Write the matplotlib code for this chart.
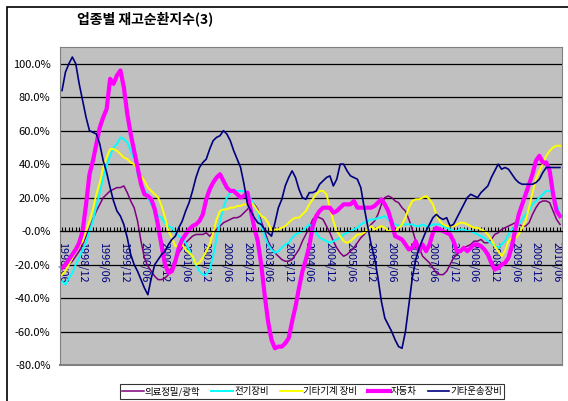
import numpy as np
import pandas as pd
import matplotlib
matplotlib.use('Agg')
from matplotlib import pyplot as plt
from matplotlib.ticker import FuncFormatter, MultipleLocator

plt.rcParams['font.family'] = ['Noto Sans CJK KR', 'DejaVu Sans']

# monthly categories 1998/06 .. 2010/07
months = [p.strftime('%Y/%m') for p in pd.period_range('1998-06', '2010-07', freq='M')]

# values in %
medical = [-22, -21, -20, -18, -15, -12, -8, -3, 2, 7, 12, 16, 20, 22, 24, 25, 26, 26, 27, 23,
           18, 14, 6, -6, -16, -21, -24, -27, -29, -29, -28, -26, -21, -17, -13, -10, -7, -5, -3, -2,
           -2, -2, -1, -3, -1, 1, 3, 5, 6, 7, 8, 8, 9, 11, 13, 16, 16, 13, 6, 0,
           -6, -10, -13, -15, -17, -18, -18, -17, -14, -11, -6, -2, 2, 7, 9, 8, 7, 3, -1, -6,
           -10, -13, -15, -14, -12, -10, -7, -4, -2, 1, 4, 6, 10, 16, 20, 21, 20, 18, 17, 14,
           12, 7, 1, -6, -10, -15, -17, -19, -22, -25, -26, -26, -24, -20, -16, -14, -12, -10, -9, -8,
           -6, -6, -5, -7, -7, -5, -2, -1, 1, 2, 3, 4, 5, 4, 3, 3, 5, 10, 14, 17,
           18, 18, 17, 12, 7, 4]
electric = [-30, -32, -28, -25, -20, -16, -11, -7, 0, 6, 15, 23, 32, 39, 45, 50, 52, 56, 55, 53,
            48, 43, 34, 29, 25, 20, 16, 12, 9, 8, 5, 3, 2, -1, -3, -5, -7, -11, -16, -20,
            -24, -26, -26, -23, -15, -4, 6, 14, 20, 23, 24, 24, 24, 24, 22, 19, 15, 11, 3, -3,
            -8, -11, -13, -12, -10, -8, -7, -4, -2, -1, 0, 2, 4, 2, -1, -4, -5, -6, -7, -6,
            -5, -4, -2, -1, 0, 1, 2, 4, 5, 6, 7, 7, 8, 8, 9, 7, 5, 4, 3, 4,
            4, 4, 4, 3, 3, 4, 3, 3, 4, 4, 4, 3, 2, 1, 0, 0, 1, 1, 0, 0,
            -1, -2, -3, -4, -6, -7, -9, -10, -8, -6, -2, 1, 3, 4, 7, 10, 12, 16, 18, 20,
            22, 24, 24, 23, 16, 10]
machinery = [-26, -24, -20, -16, -12, -9, -6, 0, 6, 13, 22, 29, 38, 44, 49, 49, 48, 46, 44, 43,
             41, 40, 36, 33, 30, 26, 24, 22, 20, 15, 8, 0, -4, -9, -9, -8, -11, -13, -15, -20,
             -19, -16, -12, -8, -1, 7, 12, 13, 13, 14, 14, 15, 15, 16, 16, 17, 15, 12, 9, 8,
             5, 0, 1, 1, 2, 3, 5, 7, 8, 8, 10, 12, 16, 19, 22, 24, 24, 22, 14, 6,
             0, -3, -6, -7, -6, -4, -2, -2, -1, 1, 3, 1, 2, 3, 2, 0, 0, 0, 2, 4,
             8, 14, 18, 19, 19, 20, 21, 19, 16, 10, 6, 4, 3, 3, 3, 4, 5, 5, 4, 3,
             2, 2, 1, 0, -2, -5, -9, -12, -15, -12, -6, -4, -4, -2, 2, 6, 14, 23, 31, 36,
             40, 45, 48, 50, 51, 51]
auto = [-22, -20, -17, -14, -11, -7, 0, 16, 34, 42, 52, 62, 68, 73, 91, 88, 93, 96, 86, 70,
        58, 48, 38, 28, 22, 21, 19, 13, 3, -9, -20, -25, -24, -18, -10, -5, -2, 1, 3, 4,
        6, 10, 19, 25, 29, 32, 34, 30, 26, 24, 24, 22, 20, 21, 23, 12, 2, -6, -20, -38,
        -54, -65, -70, -69, -69, -67, -64, -54, -45, -34, -24, -17, -9, 3, 9, 12, 14, 14, 14, 11,
        12, 14, 16, 16, 16, 18, 14, 14, 14, 14, 14, 15, 17, 19, 16, 12, 5, -3, -4, -5,
        -8, -11, -10, -6, -12, -8, -12, -8, -1, 2, 1, 0, -1, -2, -6, -12, -12, -10, -12, -10,
        -8, -8, -9, -11, -14, -19, -23, -22, -20, -19, -16, -9, 1, 10, 16, 22, 28, 34, 42, 45,
        41, 41, 36, 22, 12, 9]
transport = [84, 95, 100, 104, 100, 88, 78, 68, 60, 59, 58, 52, 42, 35, 26, 18, 12, 9, 4, -4,
             -14, -20, -24, -29, -34, -38, -28, -20, -17, -14, -12, -8, -5, -3, 2, 6, 12, 17, 24, 32,
             38, 41, 43, 49, 54, 56, 57, 60, 58, 54, 48, 43, 38, 28, 16, 12, 8, 5, 4, 1,
             -1, -3, 5, 14, 19, 27, 32, 36, 32, 25, 20, 19, 23, 23, 24, 28, 30, 32, 33, 27,
             31, 40, 40, 36, 33, 32, 31, 26, 14, 3, -8, -16, -28, -42, -52, -56, -60, -65, -69, -70,
             -60, -44, -28, -17, -10, -5, 0, 4, 8, 10, 8, 7, 8, 3, 4, 8, 12, 16, 20, 22,
             21, 20, 23, 25, 27, 32, 36, 40, 37, 38, 37, 34, 31, 29, 28, 28, 28, 28, 29, 31,
             35, 38, 38, 38, 38, 38]

series_names = ['의료정밀/광학', '전기장비', '기타기계 장비', '자동차', '기타운송장비']
series_vals = [medical, electric, machinery, auto, transport]
colors = ['#800080', '#00FFFF', '#FFFF00', '#FF00FF', '#000080']
widths = [1.1, 1.4, 1.4, 3.0, 1.2]

fig = plt.figure(figsize=(5.68, 4.01), dpi=100)
ax = fig.add_axes([60.3 / 568, 1 - 365 / 401, (561.7 - 60.3) / 568, (365 - 47) / 401])
ax.set_facecolor('#C0C0C0')

x = np.arange(len(months))
for name, vals, c, w in zip(series_names, series_vals, colors, widths):
    ax.plot(x, np.array(vals) / 100.0, color=c, lw=w, label=name, solid_joinstyle='round')

ax.set_xlim(-0.5, len(months) - 0.5)
ax.set_ylim(-0.8, 1.1)

ax.set_yticks(np.arange(-0.8, 1.01, 0.2))
ax.yaxis.set_major_formatter(FuncFormatter(lambda v, p: '%.1f%%' % (v * 100)))
ax.yaxis.grid(True, color='black', lw=0.9)
ax.set_axisbelow(True)
ax.tick_params(axis='y', length=0, pad=7, labelsize=8)

# category axis crosses at 0
ax.spines['bottom'].set_position(('data', 0))
ax.spines['bottom'].set_color('black')
for s in ['left', 'top', 'right']:
    ax.spines[s].set_color('#808080')
ax.xaxis.set_minor_locator(MultipleLocator(1))
ax.set_xticks(x[::6])
ax.set_xticklabels(months[::6], rotation=-90, color='#000080', fontsize=7.8)
ax.tick_params(axis='x', which='both', direction='in', length=3, width=0.8, pad=8)

# lower frame of plot area
ax.plot([0, 1], [0, 0], transform=ax.transAxes, color='#808080', lw=1.5, clip_on=False)

fig.text(77 / 568, 1 - 19 / 401, '업종별 재고순환지수(3)', fontsize=10, fontweight='bold',
         ha='left', va='center')

leg = fig.legend(loc='center', bbox_to_anchor=(312 / 568, 1 - 391.5 / 401), ncol=5,
                 fontsize=6.8, frameon=True, fancybox=False, edgecolor='black',
                 handlelength=2.3, columnspacing=1.2, handletextpad=0.1,
                 borderpad=0.25, borderaxespad=0)
leg.get_frame().set_linewidth(0.8)

fig.add_artist(plt.Rectangle((7 / 568, -0.1), 1.2, 1.1 - 7 / 401, transform=fig.transFigure,
                             fill=False, edgecolor='black', lw=1.2))

fig.savefig('out.png', dpi=100)
